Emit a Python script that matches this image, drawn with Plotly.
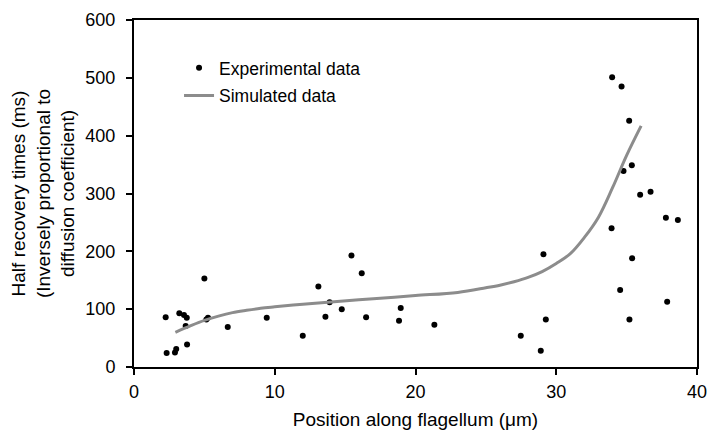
import plotly.graph_objects as go

# Experimental data (position in µm, half recovery time in ms)
exp_x = [2.25, 2.32, 2.91, 3.0, 3.22, 3.55, 3.75, 3.67, 3.77, 5.0, 5.14, 5.26, 6.66,
         9.43, 11.99, 13.1, 13.6, 13.9, 14.76, 15.45, 16.18, 16.49, 18.83, 18.95,
         21.34, 27.48, 28.9, 29.09, 29.26, 33.97, 34.64, 35.18, 35.37, 34.78, 35.96,
         36.7, 33.93, 35.39, 37.79, 38.64, 34.54, 37.88, 35.2]
exp_y = [86, 24, 25, 31, 93, 90, 85, 71, 39, 153, 82, 85, 69,
         85, 54, 139, 87, 112, 100, 193, 162, 86, 80, 102,
         73, 54, 28, 195, 82, 501, 485, 426, 349, 339, 298,
         303, 240, 188, 258, 254, 133, 113, 82]

# Simulated data curve
sim_x = [2.94, 4, 5, 6, 7, 8, 9, 10, 12, 14, 17, 20, 23, 25, 26, 27, 28,
         29, 30, 31, 32, 33, 34, 35, 36.03]
sim_y = [60, 71, 80.5, 88, 94, 98, 101.5, 104, 108.5, 112.5, 118, 123.5, 129,
         137, 141.5, 147.5, 155, 165, 179, 196, 224, 259, 310, 366, 417]

fig = go.Figure()
fig.add_trace(go.Scatter(
    x=exp_x, y=exp_y, mode="markers", name="Experimental data",
    legendgroup="a",
    marker=dict(color="black", size=6),
))
fig.add_trace(go.Scatter(
    x=sim_x, y=sim_y, mode="lines", name="Simulated data",
    legendgroup="b",
    line=dict(color="#8c8c8c", width=3, shape="spline"),
))

font_family = "Liberation Sans, Arial, sans-serif"
fig.update_layout(
    width=712, height=429,
    margin=dict(l=126, r=23, t=12, b=70),
    paper_bgcolor="white", plot_bgcolor="white",
    font=dict(family=font_family, size=18, color="black"),
    showlegend=True,
    legend=dict(x=0.08, y=0.914, xanchor="left", yanchor="top",
                bgcolor="rgba(0,0,0,0)", font=dict(size=17.5),
                tracegroupgap=2),
    xaxis=dict(
        range=[0, 40], tickvals=[0, 10, 20, 30, 40],
        showgrid=False, zeroline=False,
        showline=True, linecolor="black", linewidth=2, mirror=True,
        ticks="outside", ticklen=6, tickwidth=2, tickcolor="black",
        ticklabelstandoff=1, tickfont=dict(size=18),
        title=dict(text="Position along flagellum (μm)", standoff=12,
                   font=dict(size=19)),
        automargin=False,
    ),
    yaxis=dict(
        range=[0, 600], tickvals=[0, 100, 200, 300, 400, 500, 600],
        showgrid=False, zeroline=False,
        showline=True, linecolor="black", linewidth=2, mirror=True,
        ticks="outside", ticklen=6, tickwidth=2, tickcolor="black",
        ticklabelstandoff=7, tickfont=dict(size=18),
        title=dict(text="Half recovery times (ms)<br>(Inversely proportional to<br>diffusion coefficient)",
                   standoff=14, font=dict(size=19)),
        automargin=False,
    ),
)

fig.write_html("out.html")
